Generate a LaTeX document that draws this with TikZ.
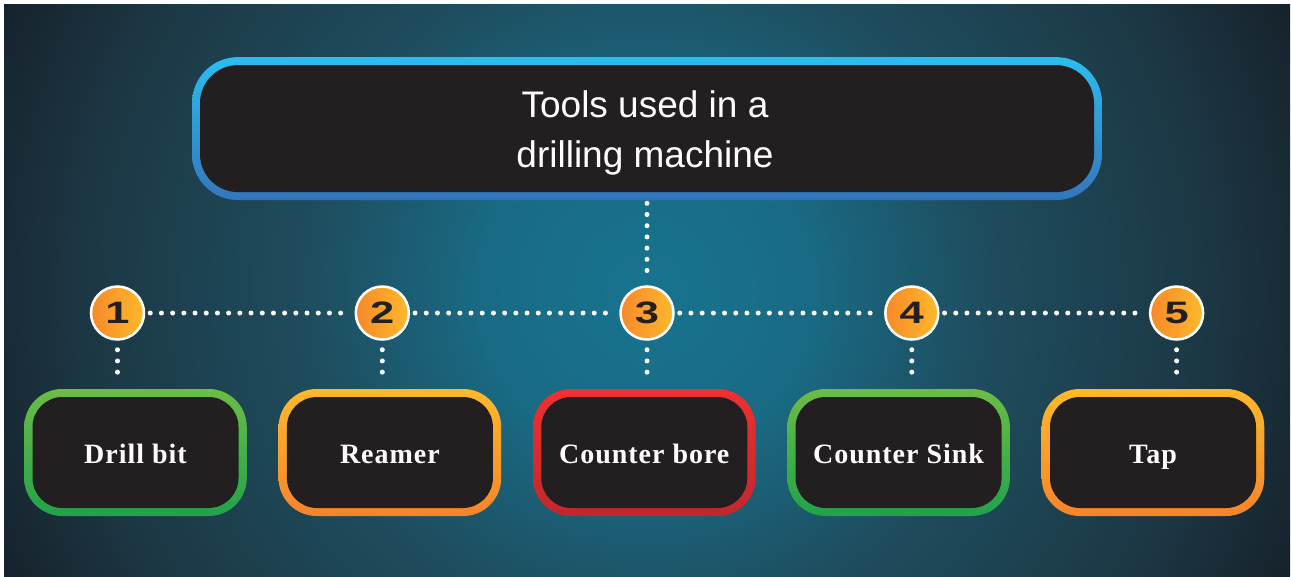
\documentclass[tikz,border=0pt]{standalone}
\usepackage{fontspec}
\setmainfont{Liberation Serif}
\newfontfamily\titlefont{Liberation Sans}
\newfontfamily\numfont{Liberation Sans}
\newfontfamily\labelfont[LetterSpace=3.5]{Liberation Serif}
\definecolor{glow}{HTML}{18748F}
\definecolor{glowb}{HTML}{196A84}
\definecolor{midc}{HTML}{1E4D5E}
\definecolor{outc}{HTML}{1C3744}
\definecolor{edgec}{HTML}{16222B}
\definecolor{boxfill}{HTML}{231F20}
\definecolor{bluetop}{HTML}{2BBDEE}
\definecolor{bluebot}{HTML}{3475BB}
\definecolor{greentop}{HTML}{6CBD45}
\definecolor{greenbot}{HTML}{21A24A}
\definecolor{orangetop}{HTML}{FDB92B}
\definecolor{orangebot}{HTML}{F5842A}
\definecolor{redtop}{HTML}{EF3131}
\definecolor{redbot}{HTML}{C1272D}
\definecolor{numleft}{HTML}{F7892A}
\definecolor{numright}{HTML}{FDB92B}
\pgfdeclareradialshading{bgshade}{\pgfpoint{0bp}{0bp}}{color(0bp)=(glow); color(6bp)=(glowb); color(7bp)=(glowb!80!midc); color(12bp)=(midc); color(20bp)=(outc); color(25bp)=(edgec); color(50bp)=(edgec)}
\begin{document}
\begin{tikzpicture}[x=1pt,y=-1pt,
  outerbox/.style={rectangle, rounded corners=38pt, minimum width=222.6pt, minimum height=127pt, inner sep=0pt, draw=none},
  innerbox/.style={rectangle, rounded corners=30pt, minimum width=206pt, minimum height=111pt, inner sep=0pt, fill=boxfill, text=white, text height=21pt, text depth=0pt, font=\labelfont\bfseries\fontsize{28}{30}\selectfont},
  numcirc/.style={circle, minimum size=53pt, inner sep=0pt, left color=numleft, right color=numright, draw=white, line width=2.5pt, text=boxfill, font=\numfont\bfseries\fontsize{31}{31}\selectfont},
  dots/.style={draw=white, line width=5pt, line cap=round, dash pattern=on 0pt off 11.2pt}
]
\useasboundingbox (0,0) rectangle (1291,576);
\fill[white] (0,0) rectangle (1291,576);
\begin{scope}
\clip (4,4) rectangle (1290,576);
\shade[shading=bgshade] (646,290) circle (705);
\end{scope}
% top box
\node[rectangle, rounded corners=46pt, minimum width=910pt, minimum height=143pt, inner sep=0pt, top color=bluetop, bottom color=bluebot] (top) at (647,128.6) {};
\node[rectangle, rounded corners=38pt, minimum width=894pt, minimum height=127pt, inner sep=0pt, fill=boxfill] (topi) at (top) {};
\node[text=white, align=center, font=\titlefont\fontsize{37}{50}\selectfont] (title) at (645,133) {Tools used in a\\drilling machine};
% number circles
\foreach \i/\x in {1/117.5,2/382.3,3/647,4/911.8,5/1176.6}{
  \node[numcirc] (c\i) at (\x,313) {\scalebox{1.4}[1]{\i}};
}
% bottom boxes
\node[outerbox, top color=greentop, bottom color=greenbot] (b1) at (135.5,452.5) {};
\node[innerbox] (b1i) at (b1) {Drill bit};
\node[outerbox, top color=orangetop, bottom color=orangebot] (b2) at (389.9,452.5) {};
\node[innerbox] (b2i) at (b2) {Reamer};
\node[outerbox, top color=redtop, bottom color=redbot] (b3) at (644.3,452.5) {};
\node[innerbox] (b3i) at (b3) {Counter bore};
\node[outerbox, top color=greentop, bottom color=greenbot] (b4) at (898.6,452.5) {};
\node[innerbox] (b4i) at (b4) {Counter Sink};
\node[outerbox, top color=orangetop, bottom color=orangebot] (b5) at (1153,452.5) {};
\node[innerbox] (b5i) at (b5) {Tap};
% connectors
\draw[dots, shorten <=3pt, shorten >=5pt] (top.south -| c3) -- (c3.north);
\foreach \a/\b in {1/2,2/3,3/4,4/5}{
  \draw[dots, shorten <=5pt, shorten >=4pt] (c\a.east) -- (c\b.west);
}
\foreach \i in {1,...,5}{
  \draw[dots, shorten <=9pt, shorten >=6pt] (c\i.south) -- (c\i.south |- b\i.north);
}
\end{tikzpicture}
\end{document}
